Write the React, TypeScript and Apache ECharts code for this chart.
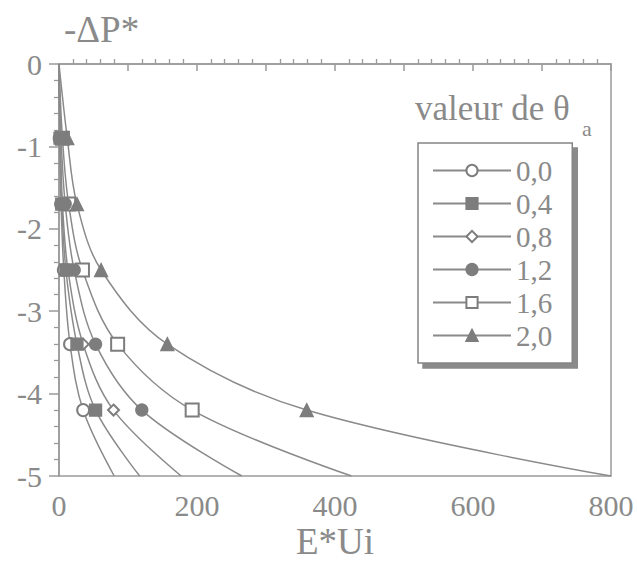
import React, { useEffect, useRef } from "react";
import * as echarts from "echarts";

// Vertical levels of -ΔP* where markers are plotted (first and last: curve ends only)
const yLevels = [0, -0.9, -1.7, -2.5, -3.4, -4.2, -5];

// E*Ui values for each θa
const thetaLabels = ["0,0", "0,4", "0,8", "1,2", "1,6", "2,0"];
const s00 = [0, 1, 3, 7, 16, 35, 80];
const s04 = [0, 1.5, 4, 10, 26, 53, 117];
const s08 = [0, 2, 5, 13, 35, 79, 177];
const s12 = [0, 3, 9, 22, 53, 120, 265];
const s16 = [0, 5, 14, 34, 85, 193, 424];
const s20 = [0, 12, 26, 61, 157, 359, 800];
const seriesValues = [s00, s04, s08, s12, s16, s20];
const symbols = ["emptyCircle", "rect", "emptyDiamond", "circle", "emptyRect", "triangle"];
const symbolSizes = [12, 12, 11, 12, 13, 13];
const seriesZ = [2, 4, 2, 3, 2, 2];

const xTicks = { min: 0, max: 800, interval: 100, labelStep: 200 };
const yTicks = { min: -5, max: 0, interval: 1 };

const FONT = '"Liberation Serif", "Times New Roman", serif';
const TXT = "#8a8a8a";
const AX = "#9a9a9a";
const LINE = "#8a8a8a";
const MARK = "#7d7d7d";

export default function App() {
  const ref = useRef<HTMLDivElement>(null);
  useEffect(() => {
    if (!ref.current) return;
    const chart = echarts.init(ref.current, undefined, { renderer: "svg" });
    const series = seriesValues.map((vals, i) => ({
      type: "line",
      name: thetaLabels[i],
      z: seriesZ[i],
      smooth: 0.35,
      showAllSymbol: true,
      symbol: symbols[i],
      symbolSize: symbolSizes[i],
      lineStyle: { color: LINE, width: 1.5 },
      itemStyle: { color: MARK, borderColor: MARK, borderWidth: 1.3 },
      emphasis: { disabled: true },
      data: vals.map((x, j) => {
        const item: any = { value: [x, yLevels[j]] };
        if (j === 0 || j === vals.length - 1) item.symbol = "none";
        return item;
      }),
    }));
    chart.setOption({
      animation: false,
      grid: {
        left: 59,
        top: 64,
        width: 552,
        height: 412,
        show: true,
        borderColor: AX,
        borderWidth: 1.5,
        backgroundColor: "transparent",
      },
      xAxis: {
        type: "value",
        min: xTicks.min,
        max: xTicks.max,
        interval: xTicks.interval,
        axisLine: { show: true, lineStyle: { color: AX, width: 1.5 } },
        axisTick: { show: true, length: 7, lineStyle: { color: AX, width: 1.5 } },
        minorTick: { show: true, splitNumber: 5, length: -5, lineStyle: { color: AX, width: 1.3 } },
        splitLine: { show: false },
        axisLabel: {
          formatter: (v: number) => (v % xTicks.labelStep === 0 ? String(v) : ""),
          fontFamily: FONT,
          fontSize: 30,
          color: TXT,
          margin: 14,
        },
      },
      yAxis: {
        type: "value",
        min: yTicks.min,
        max: yTicks.max,
        interval: yTicks.interval,
        axisLine: { show: true, lineStyle: { color: AX, width: 1.5 } },
        axisTick: { show: true, length: 10, lineStyle: { color: AX, width: 1.5 } },
        minorTick: { show: true, splitNumber: 5, length: 5, lineStyle: { color: AX, width: 1.3 } },
        splitLine: { show: false },
        axisLabel: { fontFamily: FONT, fontSize: 30, color: TXT, margin: 17 },
      },
      legend: {
        orient: "vertical",
        left: 418,
        top: 143,
        padding: [13, 20, 13, 14],
        itemGap: 4,
        itemWidth: 78,
        itemHeight: 14,
        backgroundColor: "#fff",
        borderColor: "#858585",
        borderWidth: 1.5,
        shadowColor: "#8a8a8a",
        shadowBlur: 0,
        shadowOffsetX: 5,
        shadowOffsetY: 5,
        textStyle: { fontFamily: FONT, fontSize: 29, color: TXT },
        selectedMode: false,
        data: thetaLabels,
      },
      graphic: [
        {
          type: "text",
          left: 64,
          top: 11,
          style: { text: "-ΔP*", fontFamily: FONT, fontSize: 37, fill: TXT },
        },
        {
          type: "text",
          left: 296,
          top: 523,
          style: { text: "E*Ui", fontFamily: FONT, fontSize: 37, fill: TXT },
        },
        {
          type: "text",
          left: 415,
          top: 91,
          style: { text: "valeur de θ", fontFamily: FONT, fontSize: 35, fill: TXT },
        },
        {
          type: "text",
          left: 582,
          top: 117,
          style: { text: "a", fontFamily: FONT, fontSize: 22, fill: TXT },
        },
      ],
      series,
    });
    return () => chart.dispose();
  }, []);
  return (
    <div
      ref={ref}
      style={{ position: "fixed", left: 0, top: 0, width: 637, height: 561, background: "#fff" }}
    />
  );
}
